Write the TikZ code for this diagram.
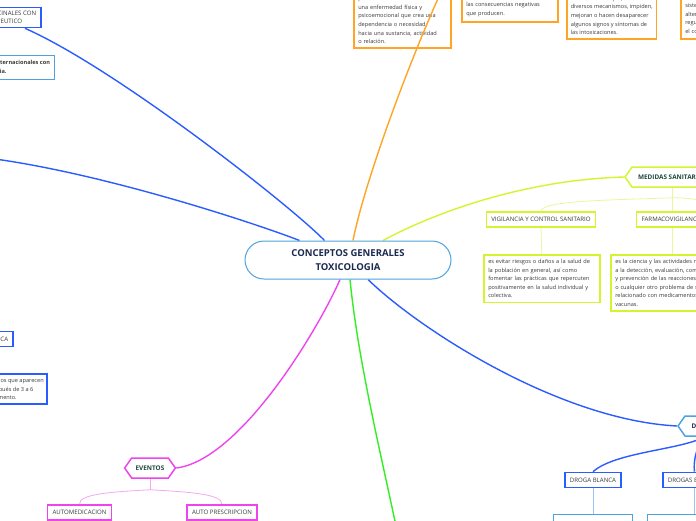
\documentclass[tikz,border=0pt]{standalone}
\usepackage{fontspec}
\setmainfont{Open Sans}
\usepackage{tikz}
\usetikzlibrary{shapes.symbols,backgrounds}

\definecolor{strongblue}{HTML}{2B5CFF}
\definecolor{lightblue}{HTML}{4EA3DE}
\definecolor{paleblue}{HTML}{9CC2F5}
\definecolor{orangeline}{HTML}{FFA424}
\definecolor{limeline}{HTML}{D2F52E}
\definecolor{limepale}{HTML}{E8F79C}
\definecolor{greenline}{HTML}{33EE22}
\definecolor{pinkline}{HTML}{EE44EE}
\definecolor{pinkpale}{HTML}{F5A6F5}
\definecolor{navytext}{HTML}{1B2A50}
\definecolor{darkgreen}{HTML}{1D4A3C}
\definecolor{graytext}{HTML}{3A3A3A}

\begin{document}
\begin{tikzpicture}[
  x=1pt, y=-1pt,
  every node/.style={text=graytext, inner sep=2pt},
  main/.style={rounded corners=19pt, draw=lightblue, line width=1pt, fill=white,
    minimum width=206pt, minimum height=38pt, align=center, text=navytext,
    font=\bfseries\fontsize{9.5}{14}\selectfont},
  hexa/.style={shape=signal, signal to=west and east, signal pointer angle=110,
    line width=1.5pt, fill=white, minimum height=20pt, inner xsep=4pt,
    text=darkgreen, font=\bfseries\fontsize{6.4}{7}\selectfont},
  tag/.style={draw, line width=1.6pt, fill=white, minimum height=15pt,
    inner xsep=5pt, font=\fontsize{6.1}{7.5}\selectfont},
  note/.style={draw, line width=1.6pt, fill=white, align=left, inner sep=4.5pt,
    font=\fontsize{5.6}{8.6}\selectfont},
  link/.style={line width=1.4pt},
  twig/.style={line width=0.8pt}
]
\useasboundingbox (0,0) rectangle (696,520);
\clip (0,0) rectangle (696,520);

% central topic
\node[main] (core) at (348,260) {CONCEPTOS GENERALES\\TOXICOLOGIA};

% left side
\node[tag, draw=strongblue, anchor=east, align=left, inner ysep=4pt] (lbox1) at (42,17.5) {MEDICINALES CON\\TERAPEUTICO};
\node[note, draw=lightblue, line width=1pt, anchor=east, font=\bfseries\fontsize{5.6}{8.6}\selectfont] (lbox2) at (55,67.5) {Nombres internacionales con\\marca propia.};
\node[tag, draw=strongblue, anchor=east] (lbox3) at (14,339) {CLINICA};
\node[note, draw=strongblue, anchor=east, inner xsep=3.5pt] (lbox4) at (48,389) {Signos que aparecen\\despu\'es de 3 a 6\\momento.};
\coordinate (lfree) at (-5,159);

% orange notes
\node[note, draw=orangeline, anchor=south west, text width=88pt] (adic) at (353,49)
  {Es un estado que se caracteriza por ser\\una enfermedad f\'isica y\\psicoemocional que crea una\\dependencia o necesidad\\hacia una sustancia, actividad\\o relaci\'on.};
\node[note, draw=orangeline, anchor=south west, text width=87pt, inner ysep=5.5pt] (depen) at (461,23)
  {Consumo compulsivo de una\\sustancia, a pesar de saber\\las consecuencias negativas\\que producen.};
\node[note, draw=orangeline, anchor=south west, inner xsep=4pt] (antid) at (566,40)
  {Son sustancias o\\medicamentos que, a trav\'es de\\diversos mecanismos, impiden,\\mejoran o hacen desaparecer\\algunos signos y s\'intomas de\\las intoxicaciones.};
\node[note, draw=orangeline, anchor=south west, text width=90pt] (droga) at (680,40)
  {Sustancia que act\'ua sobre el\\sistema nervioso central,\\alterando su funcionamiento,\\regulando\\el comportamiento.};
\coordinate (ofree) at (441,-8);

% medidas sanitarias
\node[hexa, draw=limeline, minimum width=94pt] (medid) at (672,177) {MEDIDAS SANITARIAS};
\node[tag, draw=limeline] (vigil) at (541,219.5) {VIGILANCIA Y CONTROL SANITARIO};
\node[tag, draw=limeline] (farma) at (672,219.5) {FARMACOVIGILANCIA};
\node[note, draw=limeline, anchor=north west, text width=107pt] (vigtxt) at (483,254)
  {es evitar riesgos o da\~nos a la salud de\\la poblaci\'on en general, as\'i como\\fomentar las pr\'acticas que repercuten\\positivamente en la salud individual y\\colectiva.};
\node[note, draw=limeline, anchor=north west, text width=115pt] (fartxt) at (610,254)
  { es la ciencia y las actividades relativas\\a la detecci\'on, evaluaci\'on, comprensi\'on\\y prevenci\'on de las reacciones adversas\\o cualquier otro problema de salud\\relacionado con medicamentos o\\vacunas.};
\coordinate (mfree) at (700,200);

% drogas
\node[hexa, draw=lightblue, text=navytext, minimum width=54pt] (drog) at (705,426) {DROGAS};
\node[tag, draw=strongblue] (blanca) at (593,480) {DROGA BLANCA};
\node[tag, draw=strongblue, anchor=west] (blanda) at (662,480) {DROGAS BLANDAS};
\node[draw=lightblue, line width=1pt, fill=white, anchor=north, minimum width=79pt, minimum height=40pt] (blatxt) at (593,514) {};
\node[draw=lightblue, line width=1pt, fill=white, anchor=north west, minimum width=90pt, minimum height=40pt] (bladtxt) at (647,514) {};

% eventos
\node[hexa, draw=pinkline] (event) at (150,468) {EVENTOS};
\node[tag, draw=pinkline] (automed) at (79.5,512.5) {AUTOMEDICACION};
\node[tag, draw=pinkline] (autopre) at (222,512.5) {AUTO PRESCRIPCION};
\coordinate (gfree) at (396,526);

\begin{pgfonlayer}{background}
  \draw[link, strongblue] (core.north west) ++(80,0) .. controls (290,205) and (115,68) .. ([xshift=-17pt]lbox1.south east);
  \draw[link, strongblue] (core.north west) ++(55,0) .. controls (260,225) and (110,175) .. (lfree);
  \draw[link, limeline] (core.north) ++(35,0) .. controls (430,215) and (520,180) .. (medid.west);
  \draw[link, strongblue] (core.south) ++(20,0) .. controls (420,330) and (560,420) .. (drog.west);
  \draw[link, greenline] (core.south) ++(2,0) .. controls (358,360) and (380,450) .. (gfree);
  \draw[link, pinkline] (core.south) ++(-8,0) .. controls (318,330) and (240,460) .. (event.east);
  % sub branches
  \draw[twig, limepale] (medid.south) -- ++(0,10) coordinate (mhub);
  \draw[twig, limepale] (mhub) .. controls (620,200) and (541,200) .. (vigil.north);
  \draw[twig, limepale] (mhub) -- (farma.north);
  \draw[twig, limepale] (mhub) .. controls (685,198) .. (mfree);
  \draw[twig, limepale] (vigil.south) -- (vigtxt.north);
  \draw[twig, limepale] (farma.south) -- (farma.south |- fartxt.north);
  \draw[link, strongblue] (drog.south) .. controls (680,450) and (615,452) .. (blanca.north);
  \draw[link, strongblue] (drog.south) .. controls (697,445) and (693,460) .. (blanda.north);
  \draw[twig, paleblue] (blanca.south) -- (blatxt.north);
  \draw[twig, paleblue] (blanda.south) -- (blanda.south |- bladtxt.north);
  \draw[twig, pinkpale] (event.south) -- ++(0,11) coordinate (ehub);
  \draw[twig, pinkpale] (ehub) .. controls (110,492) and (79,494) .. (automed.north);
  \draw[twig, pinkpale] (ehub) .. controls (190,492) and (222,494) .. (autopre.north);
\end{pgfonlayer}

% orange link runs over its note
\draw[link, orangeline] (core.north) ++(5,0) .. controls (365,180) and (410,60) .. (ofree);
\end{tikzpicture}
\end{document}
